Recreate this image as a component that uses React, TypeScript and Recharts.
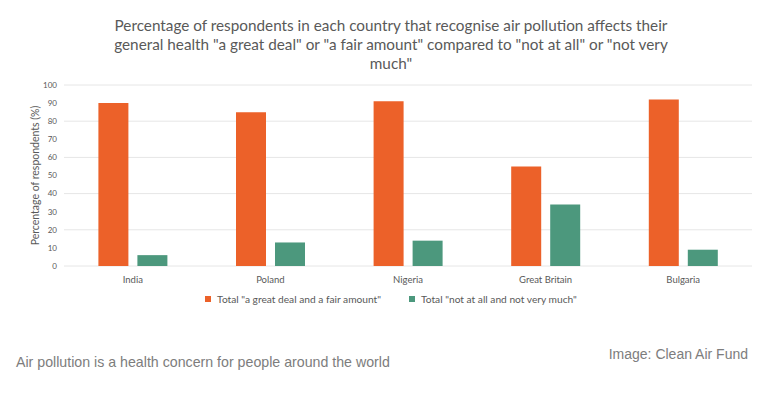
import { BarChart, Bar, XAxis, YAxis, CartesianGrid } from "recharts";

const countries = ["India", "Poland", "Nigeria", "Great Britain", "Bulgaria"];
const greatDealFair = [90, 85, 91, 55, 92];
const notAtAllNotVery = [6, 13, 14, 34, 9];
const yTicks = [0, 10, 20, 30, 40, 50, 60, 70, 80, 90, 100];

const seriesNames = [
  'Total "a great deal and a fair amount"',
  'Total "not at all and not very much"',
];
const ORANGE = "#EC6129";
const GREEN = "#4C987D";
const TEXT = "#595959";

const data = countries.map((c, i) => ({
  country: c,
  great: greatDealFair[i],
  notVery: notAtAllNotVery[i],
}));

function LegendBox() {
  const items = [
    { name: seriesNames[0], color: ORANGE },
    { name: seriesNames[1], color: GREEN },
  ];
  return (
    <div style={{ display: "flex", justifyContent: "center", gap: 28, fontFamily: "Lato, sans-serif", fontSize: 10.2, color: TEXT }}>
      {items.map((it) => (
        <div key={it.name} style={{ display: "flex", alignItems: "center", gap: 6 }}>
          <span style={{ width: 6, height: 6, background: it.color, display: "inline-block" }} />
          <span>{it.name}</span>
        </div>
      ))}
    </div>
  );
}

export default function App() {
  return (
    <div style={{ position: "absolute", left: 0, top: 0, width: 782, height: 396, background: "#fff", overflow: "hidden" }}>
      {/* titre */}
      <div
        style={{
          position: "absolute",
          left: 0,
          top: 16,
          width: 782,
          textAlign: "center",
          fontFamily: "Lato, sans-serif",
          fontSize: 15.3,
          lineHeight: "19px",
          color: TEXT,
        }}
      >
        Percentage of respondents in each country that recognise air pollution affects their
        <br />
        general health "a great deal" or "a fair amount" compared to "not at all" or "not very
        <br />
        much"
      </div>

      <div style={{ position: "absolute", left: 0, top: 0 }}>
        <BarChart
          width={782}
          height={286}
          data={data}
          margin={{ top: 85, right: 30, left: 0, bottom: 0 }}
          barCategoryGap="25%"
          barGap={9}
        >
          <CartesianGrid vertical={false} stroke="#e6e6e6" />
          <XAxis
            dataKey="country"
            axisLine={false}
            tickLine={false}
            tick={{ fontSize: 9.5, fill: TEXT, fontFamily: "Lato, sans-serif" }}
            tickMargin={4}
            height={20}
          />
          <YAxis
            width={64}
            domain={[0, 100]}
            ticks={yTicks}
            axisLine={false}
            tickLine={false}
            tickMargin={1}
            tick={{ fontSize: 8, fill: TEXT, fontFamily: "Lato, sans-serif" }}
            label={{
              value: "Percentage of respondents (%)",
              angle: -90,
              position: "insideLeft",
              offset: 35,
              style: { textAnchor: "middle", fontSize: 10.5, fill: TEXT, fontFamily: "Lato, sans-serif" },
            }}
          />
          <Bar dataKey="great" name={seriesNames[0]} fill={ORANGE} isAnimationActive={false} />
          <Bar dataKey="notVery" name={seriesNames[1]} fill={GREEN} isAnimationActive={false} />
        </BarChart>
      </div>

      {/* légende */}
      <div style={{ position: "absolute", left: 0, top: 293, width: 782 }}>
        <LegendBox />
      </div>

      <div
        style={{
          position: "absolute",
          left: 16,
          top: 354,
          fontFamily: "'Liberation Sans', Arial, sans-serif",
          fontSize: 14.2,
          color: "#7d7d7d",
        }}
      >
        Air pollution is a health concern for people around the world
      </div>
      <div
        style={{
          position: "absolute",
          right: 34,
          top: 346,
          fontFamily: "'Liberation Sans', Arial, sans-serif",
          fontSize: 14,
          color: "#7d7d7d",
        }}
      >
        Image: Clean Air Fund
      </div>
    </div>
  );
}
